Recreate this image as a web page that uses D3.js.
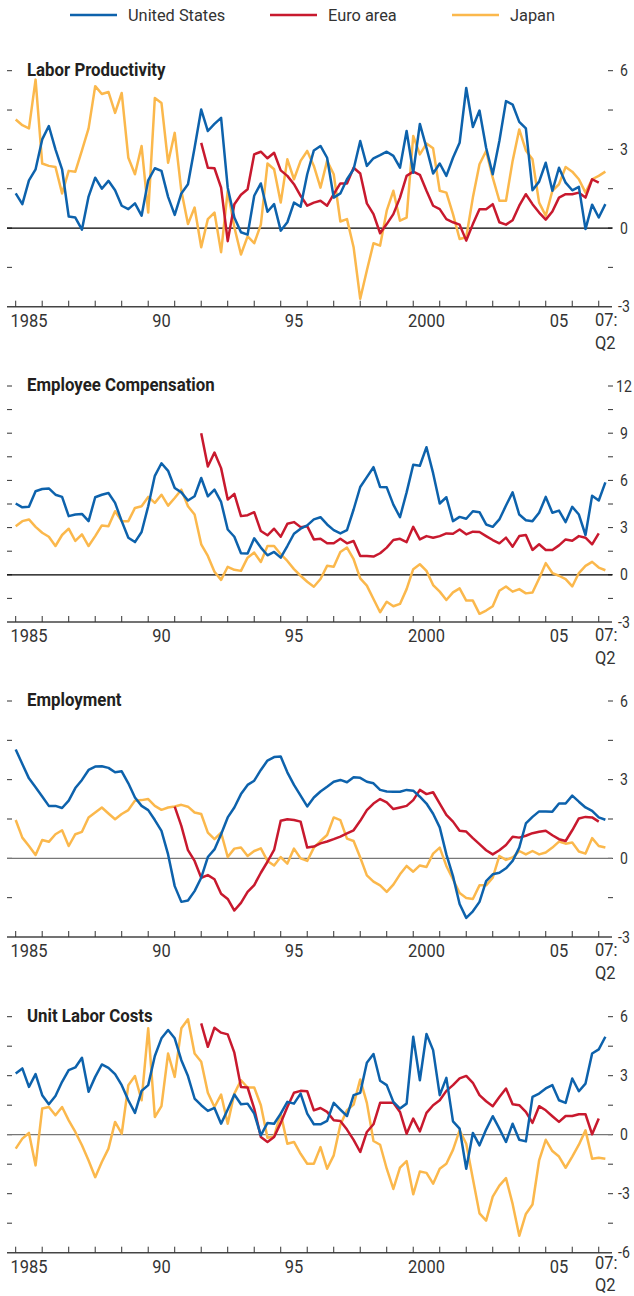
<!doctype html>
<html lang="en">
<head>
<meta charset="UTF-8">
<title>Labor market indicators, 1985-2007</title>
<script src="https://d3js.org/d3.v7.min.js"></script>
<style>
body { margin: 0; background: #fff; }
svg { display: block; }
text { font-family: "Roboto", "Liberation Sans", sans-serif; fill: #231f20; }
.title { font-weight: bold; font-size: 19px; }
.ylab { font-size: 16px; fill: #333; }
.xlab { font-size: 18.5px; fill: #333; }
.legend text { font-size: 17.4px; fill: #333; }
.tick-mark { stroke: #333; stroke-width: 1; }
path.series { fill: none; stroke-width: 2.5; stroke-linejoin: round; }
</style>
</head>
<body>
<div id="plot"></div>
<script>

var width = 634;
var height = 1296;

// quarterly data, 1985Q1 .. 2007Q2 (euro area starts later)
var firstYear = 1985;
var euroStart = 28;      // 1992Q1
var euroStartEmp = 24;   // 1991Q1

var seriesNames = ["United States", "Euro area", "Japan"];
var seriesColors = ["#0d62ac", "#c8192e", "#fbb84c"];

var prodUS = [1.32,0.91,1.82,2.24,3.38,3.89,3.0,2.24,0.44,0.4,
  -0.06,1.2,1.92,1.5,1.8,1.44,0.85,0.72,0.94,0.47,
  1.82,2.28,2.18,1.19,0.5,1.32,1.67,3.06,4.52,3.7,
  3.97,4.2,1.54,0.4,-0.16,-0.25,1.23,1.7,0.62,0.91,
  -0.1,0.22,0.97,0.81,2.05,2.96,3.13,2.68,1.16,1.32,
  1.86,2.24,3.32,2.37,2.66,2.78,2.91,2.75,2.3,3.7,
  2.11,3.97,3.06,2.08,2.46,1.99,2.68,3.25,5.34,3.85,
  4.48,3.06,2.05,3.32,4.84,4.71,4.05,3.8,1.44,1.77,
  2.49,1.42,2.3,1.73,1.44,1.57,-0.04,0.89,0.4,0.91];
var prodEuro = [3.25,2.3,2.28,1.54,-0.5,0.91,1.27,1.48,2.81,2.91,
  2.66,2.87,2.2,1.99,1.67,1.23,0.85,0.97,1.04,0.85,
  1.29,1.7,1.7,2.3,2.08,0.94,0.53,-0.2,0.15,0.53,
  1.16,1.99,2.15,2.03,1.42,0.85,0.72,0.34,0.22,0.13,
  -0.48,0.15,0.72,0.72,0.91,0.22,0.13,0.3,0.85,1.29,
  0.91,0.59,0.32,0.63,1.16,1.29,1.29,1.35,1.16,1.86,1.73];
var prodJapan = [4.14,3.92,3.8,5.66,2.46,2.37,2.33,1.32,2.18,2.15,
  2.96,3.8,5.41,5.11,5.19,4.39,5.15,2.68,2.05,3.13,
  0.59,4.96,4.77,2.49,3.63,1.42,0.15,0.78,-0.73,0.34,
  0.59,-0.92,1.42,0.03,-1.01,-0.32,-0.58,0.13,2.46,2.24,
  0.97,2.62,1.86,2.56,2.94,2.37,1.54,2.56,2.05,0.25,
  0.34,-0.73,-2.7,-1.62,-0.58,-0.67,0.66,1.42,0.28,0.4,
  3.51,2.81,3.22,3.04,1.42,1.35,0.53,-0.42,-0.35,1.16,
  2.43,2.94,1.92,1.04,1.04,2.56,3.76,2.96,2.62,0.97,
  0.47,1.42,1.67,2.33,2.15,1.86,1.35,1.86,1.99,2.15];

var compUS = [4.53,4.29,4.32,5.31,5.45,5.49,5.09,4.95,3.73,3.83,
  3.87,3.41,4.93,5.09,5.2,4.57,3.41,2.36,2.08,2.72,
  4.36,6.29,7.09,6.61,5.52,5.24,4.72,4.99,6.15,4.99,
  5.41,4.63,2.88,2.42,1.37,1.35,2.32,1.73,1.24,1.45,
  1.09,1.83,2.61,2.93,3.14,3.52,3.66,3.2,2.84,2.63,
  2.84,4.15,5.58,6.21,6.84,5.58,5.56,4.46,3.66,5.24,
  6.99,6.93,8.11,6.46,4.53,4.93,3.41,3.68,3.56,4.04,
  3.98,3.2,3.05,3.52,4.4,5.24,3.83,3.47,3.41,3.94,
  4.95,3.94,4.08,3.35,4.32,3.83,2.53,5.03,4.72,5.87];
var compEuro = [8.99,6.88,7.77,6.78,4.78,5.14,3.73,3.79,3.98,2.78,
  2.51,2.93,2.42,3.24,3.35,3.03,3.09,2.25,2.29,2.0,
  2.0,2.29,2.0,2.15,1.2,1.2,1.16,1.37,1.73,2.21,
  2.29,2.08,3.05,2.25,2.46,2.36,2.46,2.63,2.61,2.88,
  2.57,2.74,2.72,2.46,2.21,2.0,2.36,1.79,2.46,2.53,
  1.58,1.94,1.58,1.58,1.87,2.25,2.17,2.46,2.36,1.94,2.63];
var compJapan = [3.09,3.41,3.52,3.05,2.67,2.42,1.83,2.53,2.93,2.15,
  2.57,1.83,2.46,3.14,3.09,4.04,3.41,3.41,4.25,4.36,
  4.95,4.57,5.09,4.4,4.88,5.41,4.36,3.83,1.94,1.2,
  0.19,-0.32,0.51,0.32,0.25,1.09,1.41,0.82,1.83,1.83,
  1.31,0.88,0.36,-0.06,-0.44,-0.76,-0.27,0.57,0.51,1.45,
  1.73,0.99,-0.23,-0.69,-1.54,-2.38,-1.71,-2.0,-1.85,-0.91,
  0.36,0.67,0.25,-0.65,-1.07,-1.6,-1.12,-0.86,-1.64,-1.64,
  -2.48,-2.27,-2.0,-1.01,-0.74,-1.07,-0.91,-1.18,-1.12,-0.23,
  0.74,0.11,-0.06,-0.27,-0.74,0.11,0.57,0.82,0.46,0.29];

var empUS = [4.15,3.6,3.05,2.71,2.36,2.0,2.0,1.92,2.2,2.68,
  2.99,3.37,3.5,3.51,3.45,3.28,3.32,2.86,2.32,2.0,
  1.84,1.46,1.05,0.15,-1.06,-1.66,-1.61,-1.25,-0.74,0.05,
  0.34,0.92,1.56,1.94,2.45,2.8,2.96,3.37,3.73,3.86,
  3.88,3.28,2.8,2.39,1.98,2.32,2.55,2.73,2.92,2.99,
  2.9,3.09,3.07,2.92,2.86,2.61,2.55,2.54,2.54,2.61,
  2.58,2.35,2.09,1.7,1.18,0.15,-0.68,-1.74,-2.27,-2.02,
  -1.66,-0.87,-0.61,-0.55,-0.38,-0.1,0.41,1.33,1.58,1.79,
  1.79,1.78,2.09,2.09,2.39,2.16,1.94,1.81,1.56,1.47];
var empEuro = [1.97,1.24,0.31,-0.1,-0.74,-0.64,-0.8,-1.35,-1.55,-1.99,
  -1.7,-1.28,-1.02,-0.55,-0.13,0.32,1.43,1.49,1.46,1.4,
  0.41,0.45,0.57,0.64,0.73,0.83,0.95,1.07,1.43,1.84,
  2.09,2.26,2.13,1.88,1.94,2.0,2.22,2.61,2.45,2.52,
  2.09,1.66,1.4,1.05,1.02,0.77,0.54,0.31,0.15,0.31,
  0.51,0.82,0.79,0.86,0.96,1.01,1.05,0.88,0.73,0.66,
  1.07,1.52,1.58,1.56,1.4];
var empJapan = [1.46,0.79,0.47,0.13,0.7,0.63,0.92,1.07,0.47,0.92,
  1.01,1.56,1.75,1.94,1.71,1.49,1.69,1.84,2.2,2.22,
  2.26,2.0,1.85,1.94,1.98,2.04,1.97,1.75,1.69,0.98,
  0.73,0.98,0.05,0.37,0.41,0.09,0.28,0.38,-0.1,-0.27,
  0.05,-0.2,0.37,0.0,-0.1,0.41,0.66,0.89,1.56,1.46,
  0.75,0.66,0.03,-0.65,-0.89,-1.03,-1.28,-1.0,-0.61,-0.29,
  -0.51,-0.27,-0.33,0.18,0.41,-0.29,-0.8,-1.32,-1.51,-1.55,
  -1.03,-1.03,-0.74,0.09,-0.06,0.03,0.28,0.15,0.28,0.15,
  0.22,0.41,0.64,0.56,0.6,0.26,0.18,0.77,0.47,0.41];

var ulcUS = [3.11,3.37,2.43,3.08,2.01,1.55,1.97,2.69,3.28,3.42,
  3.91,2.18,2.94,3.57,3.4,3.08,2.52,1.75,1.11,2.23,
  2.52,4.0,4.9,5.32,4.9,3.79,2.98,1.84,1.5,1.21,
  1.36,0.56,1.28,2.04,1.55,1.58,1.07,-0.03,0.6,0.56,
  1.07,1.67,1.58,2.09,1.07,0.53,0.53,0.7,1.62,1.28,
  0.95,2.01,2.13,3.66,4.1,2.74,2.52,1.67,1.33,1.58,
  4.98,2.77,5.12,4.3,2.01,2.89,0.68,0.31,-1.73,0.09,
  -0.54,0.26,0.94,0.31,-0.37,0.56,-0.26,-0.34,1.92,2.09,
  2.35,2.52,1.75,1.62,2.86,2.21,2.6,4.13,4.34,4.98];
var ulcEuro = [5.66,4.47,5.44,5.19,5.1,4.17,2.43,2.4,1.33,-0.12,
  -0.37,-0.12,0.6,1.41,2.13,2.23,2.21,1.24,1.36,1.16,
  0.73,0.7,0.26,-0.26,-0.88,0.14,0.53,1.62,1.62,1.62,
  1.16,0.05,0.82,0.17,1.11,1.5,1.75,2.23,2.52,2.86,
  2.99,2.64,2.01,1.7,1.45,1.92,2.35,1.55,1.5,1.16,
  0.6,1.45,1.24,0.94,0.65,0.95,0.95,1.04,1.04,0.02,0.82];
var ulcJapan = [-0.71,-0.2,0.09,-1.56,1.33,1.41,0.99,1.41,0.73,0.14,
  -0.54,-1.31,-2.16,-1.39,-0.71,0.65,0.05,2.52,2.98,1.75,
  5.41,0.9,1.45,4.13,2.94,5.41,5.87,4.13,3.71,2.13,
  1.41,2.04,0.56,2.09,2.77,2.4,2.4,1.5,-0.15,-0.09,
  1.07,-0.46,-0.37,-0.97,-1.48,-1.48,-0.63,-1.73,-1.05,0.51,
  1.24,1.53,2.81,1.62,-0.32,-0.51,-1.73,-2.76,-1.68,-1.34,
  -3.03,-1.87,-1.94,-2.49,-1.73,-1.48,-0.77,0.22,-0.46,-2.24,
  -4.0,-4.37,-3.15,-2.59,-2.21,-3.52,-5.14,-4.03,-3.55,-1.31,
  -0.26,-0.83,-1.11,-1.68,-1.11,-0.51,0.22,-1.22,-1.17,-1.22];

var xTickYears = d3.range(1985, 2008);
var xTickLabels = ["1985", "90", "95", "2000", "05"];
var xLabelYears = [1985, 1990, 1995, 2000, 2005];

var panels = [
  { title: "Labor Productivity", domain: [-3, 6], top: 70.7, zero: "#000",
    series: [[prodJapan, 0, 2], [prodEuro, euroStart, 1], [prodUS, 0, 0]] },
  { title: "Employee Compensation", domain: [-3, 12], top: 386, zero: "#000",
    series: [[compJapan, 0, 2], [compEuro, euroStart, 1], [compUS, 0, 0]] },
  { title: "Employment", domain: [-3, 6], top: 701, zero: "#777",
    series: [[empJapan, 0, 2], [empEuro, euroStartEmp, 1], [empUS, 0, 0]] },
  { title: "Unit Labor Costs", domain: [-6, 6], top: 1016.7, zero: "#777",
    series: [[ulcJapan, 0, 2], [ulcEuro, euroStart, 1], [ulcUS, 0, 0]] }
];
var panelHeight = 236;

var svg = d3.select("#plot").append("svg")
  .attr("width", width)
  .attr("height", height);

// squeeze text horizontally, the original uses a condensed face
function condense(sel, k) {
  sel.each(function () {
    var len = this.getComputedTextLength();
    d3.select(this)
      .attr("textLength", len * k)
      .attr("lengthAdjust", "spacingAndGlyphs");
  });
}

var xScale = d3.scaleLinear().domain([1985, 2007.5]).range([15.7, 612]);

// legend
var legend = svg.append("g").attr("class", "legend");
var legendX = [70, 270, 452];
seriesNames.forEach(function (name, i) {
  legend.append("line")
    .attr("x1", legendX[i]).attr("x2", legendX[i] + 47)
    .attr("y1", 15).attr("y2", 15)
    .style("stroke", seriesColors[i])
    .style("stroke-width", 2.5);
  legend.append("text")
    .attr("x", legendX[i] + 58)
    .attr("y", 21)
    .text(name)
    .call(condense, 0.94);
});

panels.forEach(function (p) {
  var g = svg.append("g");
  var yScale = d3.scaleLinear().domain(p.domain).range([p.top + panelHeight, p.top]);
  var ticks = d3.range(p.domain[0], p.domain[1] + 0.01, 1.5);

  // left and right tick dashes
  ticks.forEach(function (t) {
    if (t === p.domain[0]) return;
    g.append("line").attr("class", "tick-mark")
      .attr("x1", 7).attr("x2", 12)
      .attr("y1", yScale(t)).attr("y2", yScale(t));
    g.append("line").attr("class", "tick-mark")
      .attr("x1", 608).attr("x2", 613)
      .attr("y1", yScale(t)).attr("y2", yScale(t));
  });
  ticks.filter(function (t) { return t % 3 === 0; }).forEach(function (t) {
    g.append("text").attr("class", "ylab")
      .attr("x", 624)
      .attr("y", yScale(t) + 5.5)
      .attr("text-anchor", "middle")
      .text(t < 0 ? "-" + Math.abs(t) : t)
      .call(condense, 0.88);
  });

  // title
  g.append("text").attr("class", "title")
    .attr("x", 27)
    .attr("y", p.top + 5)
    .text(p.title)
    .call(condense, 0.885);

  // zero line
  g.append("line")
    .attr("x1", 7).attr("x2", 612)
    .attr("y1", yScale(0)).attr("y2", yScale(0))
    .style("stroke", p.zero)
    .style("stroke-width", 1.2);

  // x axis
  var base = p.top + panelHeight;
  g.append("line")
    .attr("x1", 7).attr("x2", 612)
    .attr("y1", base).attr("y2", base)
    .style("stroke", "#444")
    .style("stroke-width", 1.4);
  xTickYears.forEach(function (yr) {
    g.append("line").attr("class", "tick-mark")
      .attr("x1", xScale(yr)).attr("x2", xScale(yr))
      .attr("y1", base).attr("y2", base - 6);
  });
  xLabelYears.forEach(function (yr, i) {
    g.append("text").attr("class", "xlab")
      .attr("x", xScale(yr + 0.5))
      .attr("y", base + 20)
      .attr("text-anchor", "middle")
      .text(xTickLabels[i])
      .call(condense, 0.89);
  });
  // last panel sits on the bottom edge, so keep Q2 inside the page
  var q2y = Math.min(base + 42, height - 5);
  g.append("text").attr("class", "xlab")
    .attr("x", 595).attr("y", Math.min(base + 19, q2y - 22))
    .text("07:")
    .call(condense, 0.89);
  g.append("text").attr("class", "xlab")
    .attr("x", 595).attr("y", q2y)
    .text("Q2")
    .call(condense, 0.89);

  // lines
  p.series.forEach(function (s) {
    var values = s[0], start = s[1], color = seriesColors[s[2]];
    var line = d3.line()
      .x(function (d, i) { return xScale(firstYear + (start + i) / 4); })
      .y(function (d) { return yScale(d); });
    g.append("path")
      .attr("class", "series")
      .attr("d", line(values))
      .style("stroke", color);
  });
});

</script>
</body>
</html>
